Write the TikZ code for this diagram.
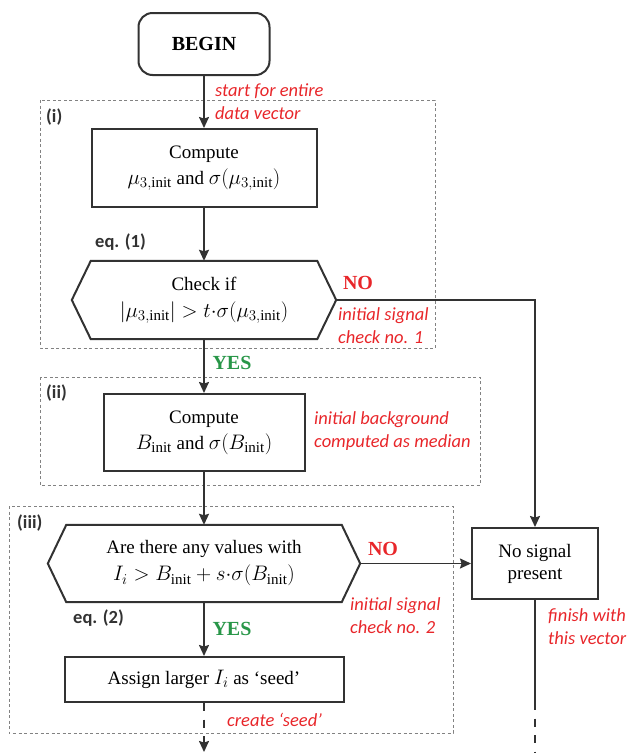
\RequirePackage{fix-cm}
\documentclass[tikz,border=0pt]{standalone}
\usepackage{fontspec}
\setmainfont{Liberation Serif}
\setmathrm{Liberation Serif}
\newfontfamily\labfont{Carlito}
\DeclareMathSizes{19}{21}{15}{11}
\usetikzlibrary{arrows.meta}
\definecolor{lred}{RGB}{232,38,42}
\definecolor{lgreen}{RGB}{40,150,72}
\definecolor{ln}{RGB}{50,50,50}
\definecolor{dgray}{RGB}{130,130,130}
\begin{document}
\begin{tikzpicture}[x=1pt,y=-1pt,
  box/.style={draw=ln, line width=2pt, inner sep=0pt, align=center, font=\fontsize{19}{26}\selectfont},
  hexbox/.style={inner sep=0pt, align=center, font=\fontsize{19}{27}\selectfont},
  hexline/.style={draw=ln, line width=2pt},
  conn/.style={draw=ln, line width=1.7pt, -{Stealth[length=11pt,width=10pt,inset=1.5pt]}},
  plain/.style={draw=ln, line width=1.7pt},
  dashconn/.style={dash pattern=on 8pt off 8.5pt},
  grp/.style={draw=dgray, line width=0.8pt, dash pattern=on 3pt off 2.5pt},
  note/.style={text=lred, font=\labfont\itshape\fontsize{18.5}{23}\selectfont, align=left, anchor=west, inner sep=0pt},
  tag/.style={font=\labfont\bfseries\fontsize{18.5}{22}\selectfont, anchor=west, inner sep=0pt, text=ln},
  ans/.style={font=\bfseries\fontsize{20}{22}\selectfont, inner sep=0pt},
]
\useasboundingbox (0,0) rectangle (629,753);

% group frames
\draw[grp] (40,100) rectangle (435,348);
\draw[grp] (40,377) rectangle (480,485);
\draw[grp] (9,506) rectangle (453,733);

% nodes
\node[box, rounded corners=14pt, minimum width=131pt, minimum height=62pt, font=\bfseries\fontsize{20}{22}\selectfont] (begin) at (204,44) {BEGIN};
\node[box, minimum width=225pt, minimum height=78pt] (c1) at (204,168) {Compute\\ $\mu_{3{,}\mathrm{init}}$ and $\sigma(\mu_{3{,}\mathrm{init}})$};
\node[hexbox, minimum width=264pt, minimum height=78pt] (h1) at (204,300) {Check if\\ $|\mu_{3{,}\mathrm{init}}| > t{\cdot}\sigma(\mu_{3{,}\mathrm{init}})$};
\draw[hexline] (h1.west) -- ([xshift=19pt]h1.north west) -- ([xshift=-19pt]h1.north east) -- (h1.east) -- ([xshift=-19pt]h1.south east) -- ([xshift=19pt]h1.south west) -- cycle;
\node[box, minimum width=201pt, minimum height=77pt] (c2) at (204,432.5) {Compute\\ $B_{\mathrm{init}}$ and $\sigma(B_{\mathrm{init}})$};
\node[hexbox, minimum width=312pt, minimum height=77pt] (h2) at (204,563.5) {Are there any values with\\ $I_i > B_{\mathrm{init}} + s{\cdot}\sigma(B_{\mathrm{init}})$};
\draw[hexline] (h2.west) -- ([xshift=18.5pt]h2.north west) -- ([xshift=-18.5pt]h2.north east) -- (h2.east) -- ([xshift=-18.5pt]h2.south east) -- ([xshift=18.5pt]h2.south west) -- cycle;
\node[box, minimum width=279pt, minimum height=45pt] (asg) at (204,679.5) {Assign larger $I_i$ as ‘seed’};
\node[box, minimum width=126pt, minimum height=71pt, font=\fontsize{19}{22}\selectfont] (nos) at (535,563.5) {No signal\\present};

\coordinate (endA) at (204,752);
\coordinate (r1) at (535,702);
\coordinate (r2) at (535,753);

% connectors
\draw[conn] (begin) -- (c1);
\draw[conn] (c1) -- (h1);
\draw[conn] (h1) -- (c2);
\draw[conn] (c2) -- (h2);
\draw[conn] (h1.east) -| (nos.north);
\draw[conn] (h2.east) -- (nos.west);
\draw[conn] (h2) -- (asg);
\draw[conn, dashconn] (asg.south) -- (endA);
\draw[plain] (nos.south) -- (r1);
\draw[plain, dashconn] (r1) -- (r2);

% labels
\node[note] (n1) at (215,101.5) {start for entire\\data vector};
\node[note] (n2) at (338,325.5) {initial signal\\check no. 1};
\node[note] (n3) at (314,431.5) {initial background\\computed as median};
\node[note] (n4) at (350,615.5) {initial signal\\check no. 2};
\node[note] (n5) at (548,626.5) {finish with\\this vector};
\node[note] (n6) at (227,720) {create ‘seed’};

\node[tag] (t1) at (46,117) {(i)};
\node[tag] (t2) at (46,393) {(ii)};
\node[tag] (t3) at (17,523) {(iii)};
\node[tag] (e1) at (95,242) {eq. (1)};
\node[tag] (e2) at (73,618) {eq. (2)};

\node[ans, text=lred] (no1) at (358,283) {NO};
\node[ans, text=lgreen] (yes1) at (232,363) {YES};
\node[ans, text=lred] (no2) at (383,549) {NO};
\node[ans, text=lgreen] (yes2) at (232,629) {YES};
\end{tikzpicture}
\end{document}
